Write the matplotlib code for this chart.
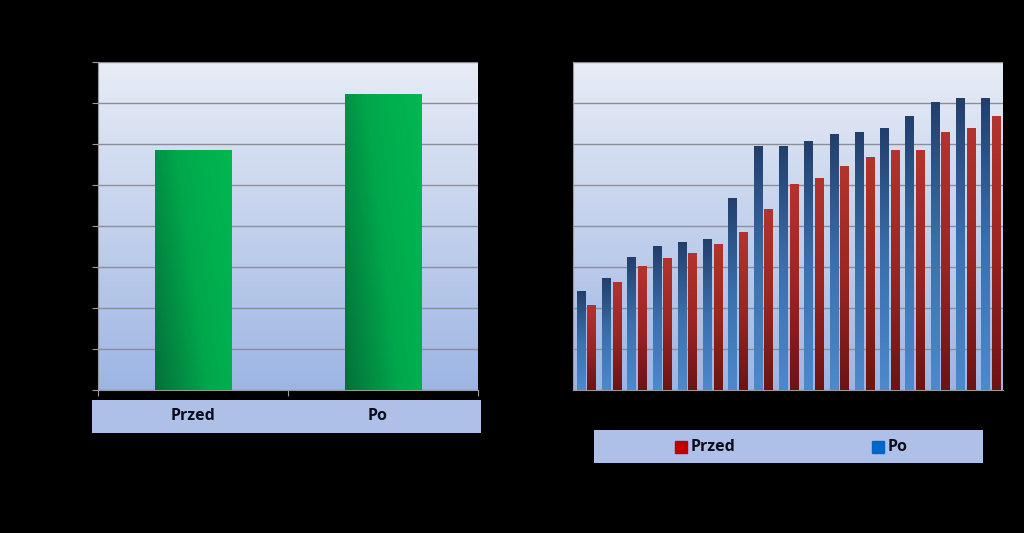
import numpy as np
import matplotlib
matplotlib.use('Agg')
import matplotlib.pyplot as plt
from matplotlib.colors import LinearSegmentedColormap

# left chart data
summary_labels = ['Przed', 'Po']
summary_values = [5.83, 7.20]

# right chart data (17 groups)
n_groups = 17
przed_values = [2.05, 2.61, 3.02, 3.20, 3.34, 3.56, 3.83, 4.41, 5.02, 5.17,
                5.44, 5.68, 5.83, 5.83, 6.27, 6.37, 6.68]
po_values = [2.41, 2.73, 3.22, 3.51, 3.59, 3.66, 4.66, 5.93, 5.93, 6.07,
             6.22, 6.29, 6.37, 6.66, 7.02, 7.12, 7.12]
legend_labels = ['Przed', 'Po']

plt.rcParams['font.family'] = ['Open Sans', 'DejaVu Sans']

bg_cmap = LinearSegmentedColormap.from_list('bg', ['#9db5e4', '#c3d1ec', '#e8ecf6'])
green_cmap = LinearSegmentedColormap.from_list('gr', ['#04713a', '#00a84c', '#00b851'])
blue_cmap = LinearSegmentedColormap.from_list('bl', ['#4d89cc', '#3b70ad', '#223f6c'])
red_cmap = LinearSegmentedColormap.from_list('rd', ['#6c1414', '#9a2622', '#b4342d'])

text_col = '#0c0c1c'
grid_col = '#8a8e99'


def style_axes(ax):
    ax.set_facecolor('none')
    grad = np.linspace(0, 1, 256).reshape(-1, 1)
    ax.imshow(grad, extent=[0, 1, 0, 1], transform=ax.transAxes, aspect='auto',
              cmap=bg_cmap, origin='lower', zorder=0)
    ax.set_ylim(0, 8)
    ax.set_yticks(range(0, 9))
    ax.yaxis.grid(True, color=grid_col, linewidth=1.0, zorder=1)
    ax.set_axisbelow(True)
    for side in ['top', 'right']:
        ax.spines[side].set_visible(False)
    ax.spines['left'].set_color('#9a9a9a')
    ax.spines['bottom'].set_color('#9a9a9a')
    ax.tick_params(axis='y', colors='#9a9a9a', length=4, labelleft=False)


def gradient_bar(ax, x, w, h, cmap, diagonal=False):
    if diagonal:
        xx, yy = np.meshgrid(np.linspace(0, 1, 64), np.linspace(0, 1, 64))
        grad = 0.7 * xx + 0.3 * yy
    else:
        grad = np.linspace(0, 1, 256).reshape(-1, 1)
    ax.imshow(grad, extent=[x, x + w, 0, h], aspect='auto', cmap=cmap,
              origin='lower', zorder=3)


fig = plt.figure(figsize=(10.24, 5.33), dpi=100)
fig.patch.set_facecolor('black')

# left panel
ax1 = fig.add_axes([98 / 1024, 1 - 390 / 533, 380 / 1024, 328 / 533])
style_axes(ax1)
bars = ax1.bar(np.arange(len(summary_values)), summary_values, width=0.405, alpha=0)
for b in bars:
    gradient_bar(ax1, b.get_x(), b.get_width(), b.get_height(), green_cmap, diagonal=True)
ax1.set_xlim(-0.5, 1.5)
ax1.set_ylim(0, 8)
ax1.set_xticks([-0.5, 0.5, 1.5])
ax1.tick_params(axis='x', colors='#9a9a9a', length=4, labelbottom=False)

# category box under left panel
lab_ax = fig.add_axes([92 / 1024, 1 - 433 / 533, 389 / 1024, 33 / 533])
lab_ax.set_facecolor('#aec0e7')
lab_ax.set_xticks([])
lab_ax.set_yticks([])
for s in lab_ax.spines.values():
    s.set_visible(False)
for i, lab in enumerate(summary_labels):
    lab_ax.text((193 - 92 + i * 185) / 389, 0.52, lab, ha='center', va='center',
                fontsize=11.5, fontweight='bold', color=text_col)

# right panel
ax2 = fig.add_axes([573 / 1024, 1 - 390 / 533, 430 / 1024, 328 / 533])
style_axes(ax2)
xs = np.arange(n_groups)
bw = 0.33
po_bars = ax2.bar(xs - 0.19, po_values, width=bw, alpha=0)
przed_bars = ax2.bar(xs + 0.23, przed_values, width=bw, alpha=0)
for b in po_bars:
    gradient_bar(ax2, b.get_x(), b.get_width(), b.get_height(), blue_cmap)
for b in przed_bars:
    gradient_bar(ax2, b.get_x(), b.get_width(), b.get_height(), red_cmap)
ax2.set_xlim(-0.5, n_groups - 0.5)
ax2.set_ylim(0, 8)
ax2.set_xticks([])
ax2.tick_params(axis='y', length=0)

# legend box
leg_ax = fig.add_axes([594 / 1024, 1 - 463 / 533, 389 / 1024, 33 / 533])
leg_ax.set_facecolor('#aec0e7')
leg_ax.set_xlim(0, 1)
leg_ax.set_ylim(0, 1)
leg_ax.set_xticks([])
leg_ax.set_yticks([])
for s in leg_ax.spines.values():
    s.set_visible(False)
leg_colors = ['#c00000', '#0066c8']
leg_pos = [(681 - 594) / 389, (878 - 594) / 389]
for lab, c, p in zip(legend_labels, leg_colors, leg_pos):
    leg_ax.plot([p], [0.5], marker='s', markersize=8, color=c, linestyle='none')
    leg_ax.text(p + 0.025, 0.47, lab, ha='left', va='center', fontsize=11.5,
                fontweight='bold', color=text_col)

fig.savefig('out.png', dpi=100, facecolor='black')
